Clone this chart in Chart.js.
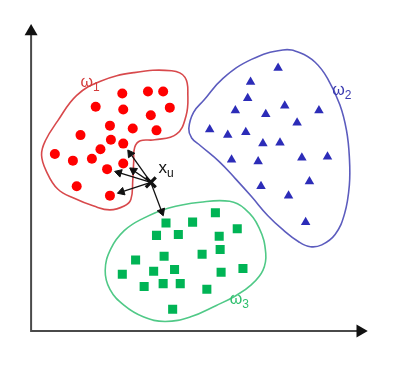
<!DOCTYPE html>
<html>
<head>
<meta charset="utf-8">
<script src="https://cdn.jsdelivr.net/npm/chart.js@4.4.1/dist/chart.umd.min.js"></script>
<style>
html, body { margin: 0; padding: 0; background: #fff; }
#wrap { width: 408px; height: 379px; }
</style>
</head>
<body>
<div id="wrap"><canvas id="chart" width="408" height="379"></canvas></div>
<script>
// feature space, origin at the corner of the axes, y up
const class1 = [[96,251],[123,253],[139,253],[68,237],[97,234],[146,236],[126,228],[83,217],[107,214],[132,212],
    [52,207],[84,202],[97,198],[73,192],[25,187],[44,180],[64,182],[80,171],[97,177],[48,153],[83,143]];
const class2 = [[260,278],[231,263],[228,246],[215,233],[267,238],[303,233],[247,229],[280,220],[188,213],[207,207],
    [226,210],[244,198],[262,199],[211,181],[239,179],[285,183],[312,184],[293,158],[242,153],[271,143],[289,115]];
const class3 = [[194,125],[142,114],[170,115],[217,108],[132,101],[155,102],[198,100],[110,75],[140,79],[180,81],
    [199,86],[96,60],[129,63],[151,65],[200,62],[223,66],[119,47],[139,50],[157,50],[185,44],[149,23]];

const unknown = [126,157];
const neighbours = [[97,198],[97,177],[80,171],[83,143],[142,114]];

// region outlines (closed)
const region1 = [[48,249],[73,264],[108,273],[148,275],[162,268],[165,249],[163,227],[153,208],[130,202],[115,201],
    [109,194],[108,179],[107,159],[105,139],[98,132],[83,128],[66,132],[46,140],[28,150],[16,169],[11,186],[15,201],[28,222]];
const region2 = [[166,214],[171,231],[182,244],[202,267],[232,287],[265,297],[283,294],[299,284],[312,267],[325,239],
    [332,212],[335,184],[335,154],[330,124],[320,102],[306,91],[294,89],[282,94],[265,107],[249,122],[232,142],
    [215,161],[198,179],[178,196],[169,204]];
const region3 = [[145,130],[178,136],[209,137],[225,129],[240,109],[247,82],[244,64],[232,49],[215,37],[195,27],
    [168,15],[141,10],[118,15],[98,27],[83,44],[78,64],[84,87],[98,106],[118,119]];

const axisEnds = [[0,316.5],[0,0],[346.5,0]];

const labelText = ['\u03c9', '\u03c9', '\u03c9', 'x'];
const labelSub = ['1', '2', '3', 'u'];
const labelPos = [[52,258],[317,249],[209,29],[134,167]];
const labelColor = ['#d43c3c', '#3a3ab0', '#2fbf6e', '#111'];

const toXY = pts => pts.map(p => ({x: p[0], y: p[1]}));

function closedCurve(pts, color) {
    const n = pts.length;
    const data = toXY([pts[n - 1], ...pts, pts[0], pts[1]]);
    const last = data.length - 1;
    return {
        data: data,
        borderColor: color,
        borderWidth: 1.6,
        tension: 0.42,
        pointRadius: 0,
        fill: false,
        segment: {
            borderColor: c => (c.p0DataIndex === 0 || c.p1DataIndex === last) ? 'rgba(0,0,0,0)' : color
        }
    };
}

function arrow(target) {
    const dx = target[0] - unknown[0], dy = target[1] - unknown[1];
    const d = Math.sqrt(dx * dx + dy * dy);
    const head = 4.5;
    const k = (d - 8.5 - head) / d;
    const end = [unknown[0] + dx * k, unknown[1] + dy * k];
    const rot = Math.atan2(-dy, dx) * 180 / Math.PI + 90;
    return {
        data: toXY([unknown, end]),
        borderColor: '#111',
        borderWidth: 1.3,
        pointStyle: 'triangle',
        pointRadius: [0, head],
        pointRotation: [0, rot],
        pointBackgroundColor: '#111',
        pointBorderColor: '#111',
        pointBorderWidth: 1,
        tension: 0
    };
}

const markers = (pts, style, r, color) => ({
    data: toXY(pts),
    showLine: false,
    pointStyle: style,
    pointRadius: r,
    pointBackgroundColor: color,
    pointBorderColor: color,
    pointBorderWidth: 0
});

const labelPlugin = {
    id: 'classLabels',
    afterDatasetsDraw(chart) {
        const ctx = chart.ctx;
        const xs = chart.scales.x, ys = chart.scales.y;
        labelText.forEach((t, i) => {
            const px = xs.getPixelForValue(labelPos[i][0]);
            const py = ys.getPixelForValue(labelPos[i][1]);
            ctx.save();
            ctx.fillStyle = labelColor[i];
            ctx.textBaseline = 'alphabetic';
            ctx.font = (t === 'x' ? '17px' : '16px') + ' "Liberation Sans", Arial, sans-serif';
            ctx.fillText(t, px, py);
            const w = ctx.measureText(t).width;
            ctx.font = '12px "Liberation Sans", Arial, sans-serif';
            ctx.fillText(labelSub[i], px + w, py + 4);
            ctx.restore();
        });
    }
};

const datasets = [
    {
        data: toXY([unknown]),
        showLine: false,
        pointStyle: 'crossRot',
        pointRadius: 7,
        pointBorderColor: '#111',
        pointBorderWidth: 3.2
    },
    ...neighbours.map(arrow),
    markers(class1, 'circle', 5, '#ff0000'),
    markers(class2, 'triangle', 5.5, '#2c2cb8'),
    markers(class3, 'rect', 6.4, '#00b455'),
    closedCurve(region1, '#d8494c'),
    closedCurve(region2, '#5c5cbe'),
    closedCurve(region3, '#50c987'),
    {
        data: toXY(axisEnds),
        borderColor: '#4a4a4a',
        borderWidth: 2,
        tension: 0,
        borderJoinStyle: 'miter',
        pointStyle: 'triangle',
        pointRadius: [7.5, 0, 7.5],
        pointRotation: [0, 0, 90],
        pointBackgroundColor: '#111',
        pointBorderColor: '#111',
        pointBorderWidth: 0
    }
];

new Chart(document.getElementById('chart'), {
    type: 'line',
    data: { datasets: datasets },
    options: {
        responsive: false,
        animation: false,
        events: [],
        layout: { padding: 0 },
        plugins: {
            legend: { display: false },
            tooltip: { enabled: false }
        },
        scales: {
            x: { type: 'linear', min: -22, max: 386, display: false },
            y: { type: 'linear', min: -40, max: 339, display: false }
        }
    },
    plugins: [labelPlugin]
});
</script>
</body>
</html>
